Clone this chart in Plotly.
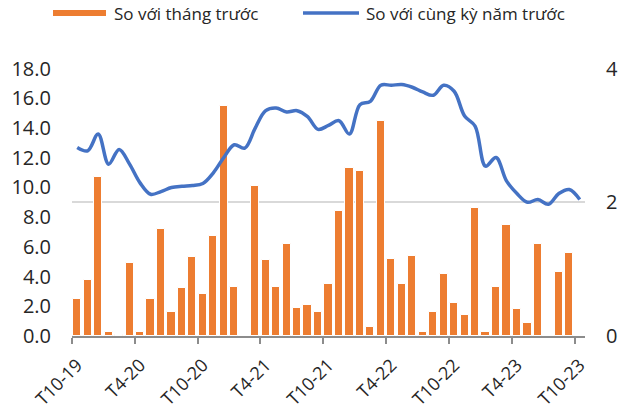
import plotly.graph_objects as go

# Months T10-19 .. T10-23 (49 categories)
months = []
m, y = 10, 19
for _ in range(49):
    months.append(f"T{m}-{y}")
    m += 1
    if m > 12:
        m = 1
        y += 1

# Month-on-month change (%), left axis
mom = [2.5, 3.8, 10.7, 0.3, 0.1, 4.9, 0.3, 2.5, 7.2, 1.6,
       3.2, 5.3, 2.8, 6.7, 15.5, 3.3, None, 10.1, 5.1, 3.3,
       6.2, 1.9, 2.1, 1.6, 3.5, 8.4, 11.3, 11.1, 0.6, 14.5,
       5.2, 3.5, 5.4, 0.3, 1.6, 4.2, 2.2, 1.4, 8.6, 0.3,
       3.3, 7.5, 1.8, 0.9, 6.2, None, 4.3, 5.6, None]

# Year-on-year change (%), right axis
yoy = [2.82, 2.77, 3.02, 2.57, 2.79, 2.57, 2.29, 2.12, 2.16, 2.22,
       2.24, 2.25, 2.28, 2.44, 2.67, 2.86, 2.81, 3.11, 3.37, 3.41,
       3.35, 3.37, 3.28, 3.09, 3.15, 3.22, 3.02, 3.46, 3.51, 3.75,
       3.75, 3.76, 3.72, 3.65, 3.60, 3.75, 3.66, 3.29, 3.14, 2.54,
       2.67, 2.32, 2.13, 2.00, 2.04, 1.97, 2.13, 2.19, 2.04]

series_names = ["So với tháng trước", "So với cùng kỳ năm trước"]
left_ticks = [0, 2, 4, 6, 8, 10, 12, 14, 16, 18]
right_ticks = [0, 2, 4]
label_step = 6

ORANGE = "#ED7D31"
BLUE = "#4472C4"
FONT = "Open Sans"
TXT = "#262626"

W, H = 630, 414
ML, MR, MT, MB = 72, 45, 68, 78
PW, PH = W - ML - MR, H - MT - MB


def px_x(p):  # window pixel -> paper
    return (p - ML) / PW


def px_y(p):
    return (H - MB - p) / PH


EPS = 1.002
xpos = [i + 0.5 for i in range(len(months))]
label_idx = list(range(0, len(months), label_step))

fig = go.Figure()
fig.add_trace(go.Bar(x=xpos, y=mom, marker=dict(color=ORANGE, line=dict(color="white", width=1)),
                     width=0.78, name=series_names[0]))
fig.add_trace(go.Scatter(x=xpos, y=yoy, mode="lines", yaxis="y2", xaxis="x2",
                         line=dict(color=BLUE, width=3.5, shape="spline", smoothing=1),
                         name=series_names[1]))

# legend drawn as in the original (wide swatches)
leg_y = px_y(14)
fig.add_shape(type="line", xref="paper", yref="paper", x0=px_x(53), x1=px_x(106), y0=px_y(13), y1=px_y(13),
              line=dict(color=ORANGE, width=6))
fig.add_shape(type="line", xref="paper", yref="paper", x0=px_x(303), x1=px_x(359), y0=px_y(13), y1=px_y(13),
              line=dict(color=BLUE, width=3.5))
fig.add_annotation(text=series_names[0], xref="paper", yref="paper", x=px_x(112), y=leg_y,
                   xanchor="left", yanchor="middle", showarrow=False, font=dict(size=17, color=TXT))
fig.add_annotation(text=series_names[1], xref="paper", yref="paper", x=px_x(364), y=leg_y,
                   xanchor="left", yanchor="middle", showarrow=False, font=dict(size=17, color=TXT))

fig.update_layout(
    width=W, height=H,
    margin=dict(l=ML, r=MR, t=MT, b=MB, autoexpand=False),
    paper_bgcolor="white", plot_bgcolor="white",
    font=dict(family=FONT, size=18, color=TXT),
    showlegend=False,
    bargap=0,
    xaxis=dict(range=[0, len(months)], tickvals=label_idx, showticklabels=False,
               ticks="outside", ticklen=6, tickwidth=1.5, tickcolor="#8c8c8c",
               showline=True, linecolor="#8c8c8c", linewidth=1.5, showgrid=False, zeroline=False),
    xaxis2=dict(range=[0, len(months)], overlaying="x", anchor="y2", side="bottom",
                tickvals=[xpos[i] for i in label_idx], ticktext=[months[i] for i in label_idx],
                tickangle=-45, ticks="", showline=False, showgrid=False, zeroline=False,
                ticklabelstandoff=14, tickfont=dict(size=18, color=TXT)),
    yaxis=dict(range=[0, 18 * EPS], tickvals=left_ticks, tickformat=".1f", showgrid=False,
               zeroline=False, showline=False, ticks="", ticklabelstandoff=20,
               tickfont=dict(size=20, color=TXT)),
    yaxis2=dict(range=[0, 4 * EPS], tickvals=right_ticks, overlaying="y", side="right",
                showgrid=True, gridcolor="#d9d9d9", gridwidth=1.5, zeroline=False,
                showline=False, ticks="", ticklabelstandoff=20,
                tickfont=dict(size=20, color=TXT)),
)

fig.write_html("out.html", config={"displayModeBar": False},
               post_script="document.body.style.margin='0';")
